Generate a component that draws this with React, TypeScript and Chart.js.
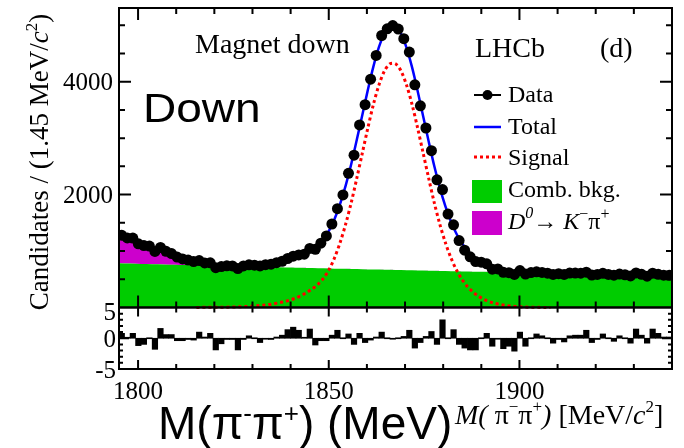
import React, { useEffect, useRef } from "react";
import { Chart, registerables } from "chart.js";

Chart.register(...registerables);

// ---- binning / axis ----
const MASS_MIN = 1795;
const MASS_MAX = 1940;
const BIN_WIDTH = 1.45;

const X_TICK_LABELS = ["1800", "1850", "1900"];
const Y_TICK_LABELS = ["2000", "4000"];
const PULL_TICK_LABELS = ["5", "0", "-5"];

// ---- data (per bin, 100 bins) ----
const DATA_COUNTS = [
  1279, 1232, 1229, 1127, 1097, 1088, 993, 1064, 995, 956,
  894, 861, 840, 814, 831, 789, 791, 706, 724, 739,
  736, 689, 737, 755, 749, 736, 759, 767, 794, 819,
  868, 909, 932, 944, 1046, 1031, 1140, 1268, 1479, 1751,
  1995, 2377, 2699, 3234, 3594, 4045, 4465, 4819, 4938, 4994,
  4933, 4762, 4526, 3945, 3573, 3180, 2778, 2261, 2090, 1654,
  1465, 1185, 1016, 897, 813, 802, 774, 679, 683, 622,
  616, 585, 654, 591, 618, 631, 621, 608, 585, 598,
  586, 609, 609, 607, 625, 575, 585, 605, 586, 572,
  592, 580, 559, 612, 587, 554, 607, 588, 572, 571,
];

const PULLS = [
  0.8, 0.1, 0.8, -1.2, -1.0, 0.0, -1.8, 1.6, 0.6, 0.6,
  -0.4, -0.4, -0.2, -0.3, 1.0, 0.2, 0.8, -1.9, -0.9, -0.2,
  -0.2, -1.9, -0.2, 0.4, 0.0, -0.7, -0.1, -0.2, 0.2, 0.5,
  1.4, 1.8, 1.3, 0.1, 1.5, -1.1, -0.4, -0.4, 0.5, 1.3,
  0.0, 0.7, -1.0, 0.8, -0.7, -0.3, 0.2, 1.0, 0.0, -0.1,
  0.0, 0.3, 1.3, -1.6, -0.7, 0.3, 1.1, -1.0, 3.0, 0.0,
  1.4, -1.0, -1.6, -1.9, -1.9, 0.0, 0.8, -1.3, -0.1, -1.7,
  -1.3, -2.1, 1.0, -1.3, 0.0, 0.7, 0.4, 0.0, -0.8, -0.2,
  -0.6, 0.4, 0.5, 0.5, 1.3, -0.7, -0.2, 0.7, 0.0, -0.5,
  0.4, 0.0, -0.8, 1.5, 0.5, -0.8, 1.5, 0.8, 0.2, 0.2,
];

// ---- fit components (sampled at the 101 bin edges) ----
const COMB_BKG = [
  782, 779, 777, 774, 772, 769, 767, 764, 762, 759,
  757, 754, 752, 749, 747, 744, 742, 740, 737, 735,
  732, 730, 728, 725, 723, 721, 718, 716, 714, 711,
  709, 707, 704, 702, 700, 698, 695, 693, 691, 688,
  686, 684, 682, 680, 677, 675, 673, 671, 669, 667,
  664, 662, 660, 658, 656, 654, 652, 650, 648, 645,
  643, 641, 639, 637, 635, 633, 631, 629, 627, 625,
  622, 620, 618, 616, 614, 612, 610, 608, 606, 604,
  602, 600, 598, 596, 594, 593, 591, 589, 587, 585,
  583, 581, 579, 577, 576, 574, 572, 570, 568, 567,
  565,
];

const MISID_BKG = [
  480, 460, 437, 410, 378, 340, 302, 268, 232, 198,
  165, 135, 107, 85, 65, 46, 31, 20, 11, 6,
  3, 1, 0,
];

const SIGNAL = [
  0, 0, 0, 0, 0, 0, 0, 0, 0, 0,
  0, 0, 0, 0, 1, 2, 2, 3, 4, 5,
  7, 9, 13, 17, 23, 31, 40, 51, 66, 85,
  107, 134, 168, 214, 268, 333, 412, 520, 675, 885,
  1155, 1480, 1860, 2290, 2735, 3180, 3595, 3940, 4190, 4318,
  4318, 4190, 3940, 3595, 3180, 2735, 2290, 1860, 1480, 1155,
  885, 670, 500, 372, 275, 200, 144, 103, 72, 50,
  35, 23, 15, 10, 6, 4, 2, 1, 1, 0,
  0, 0, 0, 0, 0, 0, 0, 0, 0, 0,
  0, 0, 0, 0, 0, 0, 0, 0, 0, 0,
  0,
];

const LEGEND_LABELS = ["Data", "Total", "Signal", "Comb. bkg."];

const SERIF = '"Liberation Serif", "Times New Roman", serif';
const SANS = '"Liberation Sans", Arial, sans-serif';

type Seg = { text: string; font: string; dy?: number };

function richWidth(ctx: CanvasRenderingContext2D, segs: Seg[]) {
  let w = 0;
  for (const s of segs) {
    ctx.font = s.font;
    w += ctx.measureText(s.text).width;
  }
  return w;
}

function drawRich(ctx: CanvasRenderingContext2D, segs: Seg[], x: number, y: number) {
  let cx = x;
  for (const s of segs) {
    ctx.font = s.font;
    ctx.fillText(s.text, cx, y + (s.dy || 0));
    cx += ctx.measureText(s.text).width;
  }
}

const overlayPlugin = {
  id: "lhcbOverlay",
  afterDraw(chart: any) {
    const { ctx, chartArea: a } = chart;
    const xs = chart.scales.x;
    const ys = chart.scales.y;
    const yp = chart.scales.yp;
    const yZero = ys.getPixelForValue(0);

    ctx.save();
    ctx.strokeStyle = "#000";
    ctx.fillStyle = "#000";
    ctx.lineWidth = 2;

    // ticks
    ctx.beginPath();
    for (let m = 1800; m <= 1930; m += 10) {
      const px = xs.getPixelForValue(m);
      const major = m % 50 === 0;
      const lm = major ? 12 : 6;
      const lp = major ? 9 : 5;
      ctx.moveTo(px, a.top);
      ctx.lineTo(px, a.top + lm);
      ctx.moveTo(px, yZero);
      ctx.lineTo(px, yZero - lm);
      ctx.moveTo(px, yZero);
      ctx.lineTo(px, yZero + lp);
      ctx.moveTo(px, a.bottom);
      ctx.lineTo(px, a.bottom - lp);
    }
    for (let v = 500; v <= 5000; v += 500) {
      const py = ys.getPixelForValue(v);
      const l = v % 2000 === 0 ? 12 : 6;
      ctx.moveTo(a.left, py);
      ctx.lineTo(a.left + l, py);
      ctx.moveTo(a.right, py);
      ctx.lineTo(a.right - l, py);
    }
    for (let v = -4; v <= 4; v++) {
      const py = yp.getPixelForValue(v);
      const l = v === 0 ? 10 : 4;
      ctx.moveTo(a.left, py);
      ctx.lineTo(a.left + l, py);
      ctx.moveTo(a.right, py);
      ctx.lineTo(a.right - l, py);
    }
    ctx.stroke();

    // frames
    ctx.strokeRect(a.left, a.top, a.right - a.left, yZero - a.top);
    ctx.strokeRect(a.left, yZero, a.right - a.left, a.bottom - yZero);

    // tick labels
    ctx.textBaseline = "alphabetic";
    ctx.font = `25px ${SERIF}`;
    ctx.textAlign = "center";
    for (const t of X_TICK_LABELS) {
      ctx.fillText(t, xs.getPixelForValue(Number(t)), 399);
    }
    ctx.textAlign = "right";
    for (const t of Y_TICK_LABELS) {
      ctx.fillText(t, 113, ys.getPixelForValue(Number(t)) + 8.5);
    }
    for (const t of PULL_TICK_LABELS) {
      const v = Number(t);
      const off = v === 5 ? 12 : 9;
      ctx.fillText(t, 116, yp.getPixelForValue(v) + off);
    }

    // y title (rotated)
    ctx.textAlign = "left";
    const ySegs: Seg[] = [
      { text: "Candidates / (1.45 MeV/", font: `27px ${SERIF}` },
      { text: "c", font: `italic 27px ${SERIF}` },
      { text: "2", font: `17px ${SERIF}`, dy: -11 },
      { text: ")", font: `27px ${SERIF}` },
    ];
    ctx.save();
    ctx.translate(48, 162);
    ctx.rotate(-Math.PI / 2);
    drawRich(ctx, ySegs, -richWidth(ctx, ySegs) / 2, 0);
    ctx.restore();

    // annotations
    ctx.font = `28px ${SERIF}`;
    ctx.fillText("Magnet down", 195, 53);
    ctx.fillText("LHCb", 475, 57);
    ctx.fillText("(d)", 600, 57);

    ctx.save();
    ctx.translate(143, 122);
    ctx.scale(1.15, 1);
    ctx.font = `40px ${SANS}`;
    ctx.fillText("Down", 0, 0);
    ctx.restore();

    // legend
    const lx0 = 474;
    const lx1 = 501;
    ctx.lineWidth = 2;
    ctx.strokeStyle = "#000";
    ctx.beginPath();
    ctx.moveTo(lx0, 95);
    ctx.lineTo(lx1, 95);
    ctx.stroke();
    ctx.beginPath();
    ctx.arc((lx0 + lx1) / 2, 95, 5, 0, Math.PI * 2);
    ctx.fill();

    ctx.strokeStyle = "#0000ff";
    ctx.lineWidth = 2.5;
    ctx.beginPath();
    ctx.moveTo(lx0, 127);
    ctx.lineTo(lx1, 127);
    ctx.stroke();

    ctx.strokeStyle = "#ff0000";
    ctx.lineWidth = 3;
    ctx.setLineDash([3, 3]);
    ctx.beginPath();
    ctx.moveTo(lx0, 157);
    ctx.lineTo(lx1, 157);
    ctx.stroke();
    ctx.setLineDash([]);

    ctx.fillStyle = "#00cc00";
    ctx.fillRect(472, 180, 30, 23);
    ctx.fillStyle = "#cc00cc";
    ctx.fillRect(472, 211, 30, 24);

    ctx.fillStyle = "#000";
    ctx.font = `24px ${SERIF}`;
    const baselines = [102, 133.5, 165, 197];
    LEGEND_LABELS.forEach((t, i) => ctx.fillText(t, 508, baselines[i]));
    drawRich(
      ctx,
      [
        { text: "D", font: `italic 24px ${SERIF}` },
        { text: "0", font: `italic 16px ${SERIF}`, dy: -11 },
        { text: "\u2192 ", font: `24px ${SERIF}` },
        { text: "K", font: `italic 24px ${SERIF}` },
        { text: "\u2212", font: `16px ${SERIF}`, dy: -10 },
        { text: "\u03c0", font: `24px ${SERIF}` },
        { text: "+", font: `16px ${SERIF}`, dy: -10 },
      ],
      508,
      229
    );

    // big x title
    drawRich(
      ctx,
      [
        { text: "M(\u03c0", font: `46px ${SANS}` },
        { text: "-", font: `26px ${SANS}`, dy: -17 },
        { text: "\u03c0", font: `46px ${SANS}` },
        { text: "+", font: `26px ${SANS}`, dy: -17 },
        { text: ") (MeV)", font: `46px ${SANS}` },
      ],
      158,
      439
    );

    // small x title
    drawRich(
      ctx,
      [
        { text: "M(", font: `italic 28px ${SERIF}` },
        { text: " \u03c0", font: `28px ${SERIF}` },
        { text: "\u2212", font: `17px ${SERIF}`, dy: -12 },
        { text: "\u03c0", font: `28px ${SERIF}` },
        { text: "+", font: `17px ${SERIF}`, dy: -12 },
        { text: ")", font: `italic 28px ${SERIF}` },
        { text: " [MeV/", font: `28px ${SERIF}` },
        { text: "c", font: `italic 28px ${SERIF}` },
        { text: "2", font: `17px ${SERIF}`, dy: -12 },
        { text: "]", font: `28px ${SERIF}` },
      ],
      455,
      424
    );

    ctx.restore();
  },
};

export default function App() {
  const canvasRef = useRef<HTMLCanvasElement | null>(null);

  useEffect(() => {
    const canvas = canvasRef.current;
    if (!canvas) return;

    const binCenter = (i: number) => MASS_MIN + BIN_WIDTH * (i + 0.5);
    const binEdge = (j: number) => MASS_MIN + BIN_WIDTH * j;

    const dataPts = DATA_COUNTS.map((v, i) => ({ x: binCenter(i), y: v }));
    const pullPts = PULLS.map((v, i) => ({ x: binCenter(i), y: v }));
    const combPts = COMB_BKG.map((v, j) => ({ x: binEdge(j), y: v }));
    const misidPts = COMB_BKG.map((v, j) => ({ x: binEdge(j), y: v + (MISID_BKG[j] || 0) }));
    const totalPts = COMB_BKG.map((v, j) => ({
      x: binEdge(j),
      y: v + (MISID_BKG[j] || 0) + (SIGNAL[j] || 0),
    }));
    const sigPts = SIGNAL.map((v, j) => ({ x: binEdge(j), y: v })).filter((p) => p.y > 0);

    const chart = new Chart(canvas, {
      type: "line",
      data: {
        datasets: [
          {
            label: "Data",
            data: dataPts,
            showLine: false,
            pointRadius: 5.5,
            pointHoverRadius: 5.5,
            pointBackgroundColor: "#000",
            pointBorderWidth: 0,
            yAxisID: "y",
          },
          {
            label: "Total",
            data: totalPts,
            borderColor: "#0000ff",
            borderWidth: 2.5,
            pointRadius: 0,
            tension: 0.3,
            fill: false,
            yAxisID: "y",
          },
          {
            label: "Signal",
            data: sigPts,
            borderColor: "#ff0000",
            borderWidth: 3,
            borderDash: [3, 3],
            pointRadius: 0,
            tension: 0.3,
            fill: false,
            yAxisID: "y",
          },
          {
            label: "Comb. bkg.",
            data: combPts,
            borderWidth: 0,
            borderColor: "#00cc00",
            backgroundColor: "#00cc00",
            pointRadius: 0,
            fill: "origin",
            yAxisID: "y",
          },
          {
            label: "D0 -> K- pi+",
            data: misidPts,
            borderWidth: 0,
            borderColor: "#cc00cc",
            backgroundColor: "#cc00cc",
            pointRadius: 0,
            tension: 0.2,
            fill: 3,
            yAxisID: "y",
          },
          {
            type: "bar",
            label: "Pull",
            data: pullPts,
            backgroundColor: "#000",
            borderWidth: 0,
            barPercentage: 1,
            categoryPercentage: 1,
            minBarLength: 1,
            yAxisID: "yp",
          } as any,
        ],
      },
      options: {
        animation: false,
        responsive: false,
        devicePixelRatio: 1,
        events: [],
        layout: { padding: { left: 119, right: 12, top: 8, bottom: 79 } },
        plugins: { legend: { display: false }, tooltip: { enabled: false } },
        scales: {
          x: { type: "linear", min: MASS_MIN, max: MASS_MAX, offset: false, display: false },
          y: { type: "linear", min: -1090, max: 5306, display: false },
          yp: { type: "linear", min: -5, max: 53.7, display: false },
        },
      },
      plugins: [overlayPlugin],
    } as any);

    return () => chart.destroy();
  }, []);

  return (
    <div style={{ position: "fixed", left: 0, top: 0, width: 684, height: 448, background: "#fff" }}>
      <canvas ref={canvasRef} width={684} height={448} style={{ display: "block" }} />
    </div>
  );
}
